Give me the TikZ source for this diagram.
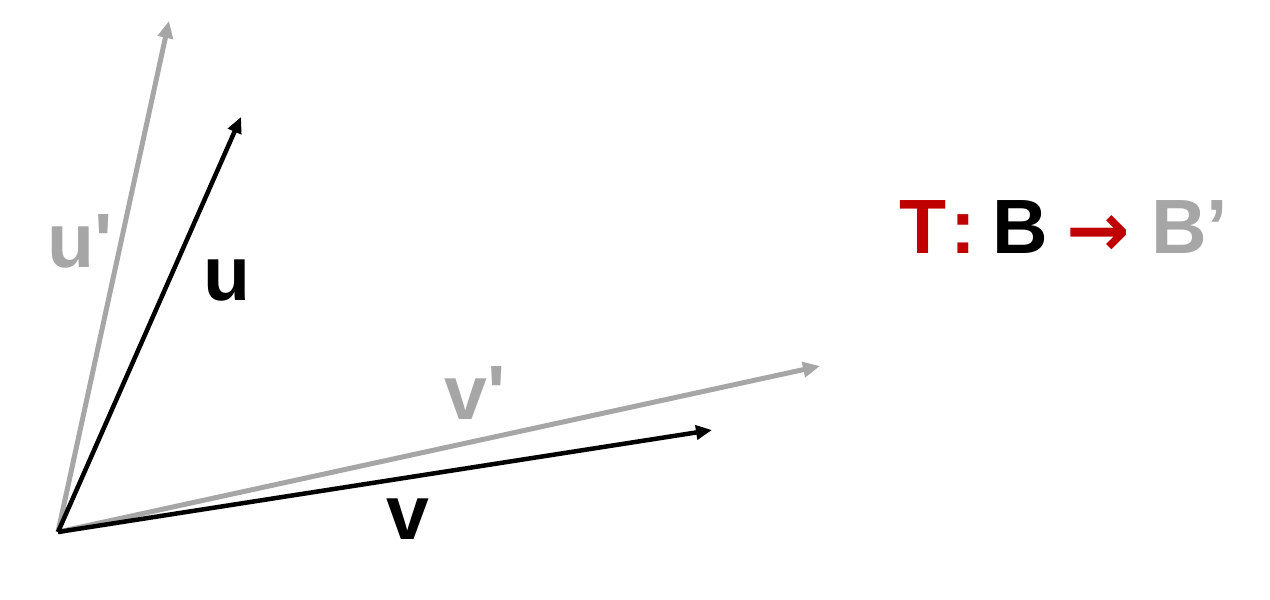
\documentclass[tikz,border=0pt]{standalone}
\usepackage{fontspec}
\setmainfont{Liberation Sans}[Ligatures=TeXOff]
\newfontfamily\arrowfont{DejaVu Sans}
\usetikzlibrary{arrows.meta}
\definecolor{lgray}{HTML}{A6A6A6}
\definecolor{dred}{HTML}{C00000}
\tikzset{
  vecg/.style={draw=lgray,line width=5pt,-{Triangle[length=17pt,width=15pt]}},
  veck/.style={draw=black,line width=4.5pt,-{Triangle[length=16pt,width=14pt]}},
  lbl/.style={anchor=base west,inner sep=0pt,font=\fontsize{77}{90}\selectfont\bfseries},
}
\begin{document}
\begin{tikzpicture}[x=1pt,y=-1pt]
\useasboundingbox (0,0) rectangle (1270,600);
\coordinate (O) at (58,532);
\coordinate (up) at (169,21);
\coordinate (u) at (241,117);
\coordinate (vp) at (820,366);
\coordinate (v) at (712,430);
\draw[vecg] (O) -- (up);
\draw[vecg] (O) -- (vp);
\draw[veck] (O) -- (u);
\draw[veck] (O) -- (v);
\node[lbl,text=lgray] (lup) at (47,267) {u'};
\node[lbl] (lu) at (203,300) {u};
\node[lbl,text=lgray] (lvp) at (444,419) {v'};
\node[lbl] (lv) at (386,539) {v};
\node[lbl,text=dred] (tT) at (899,253) {T};
\node[lbl,text=dred] (tC) at (950,253) {:};
\node[lbl] (tB) at (992,253) {B};
\node[anchor=base west,inner sep=0pt,text=dred,font=\fontsize{76}{90}\selectfont\arrowfont\bfseries] (tar) at (1066,256) {→};
\node[lbl,text=lgray] (tBp) at (1151,253) {B’};
\end{tikzpicture}
\end{document}
